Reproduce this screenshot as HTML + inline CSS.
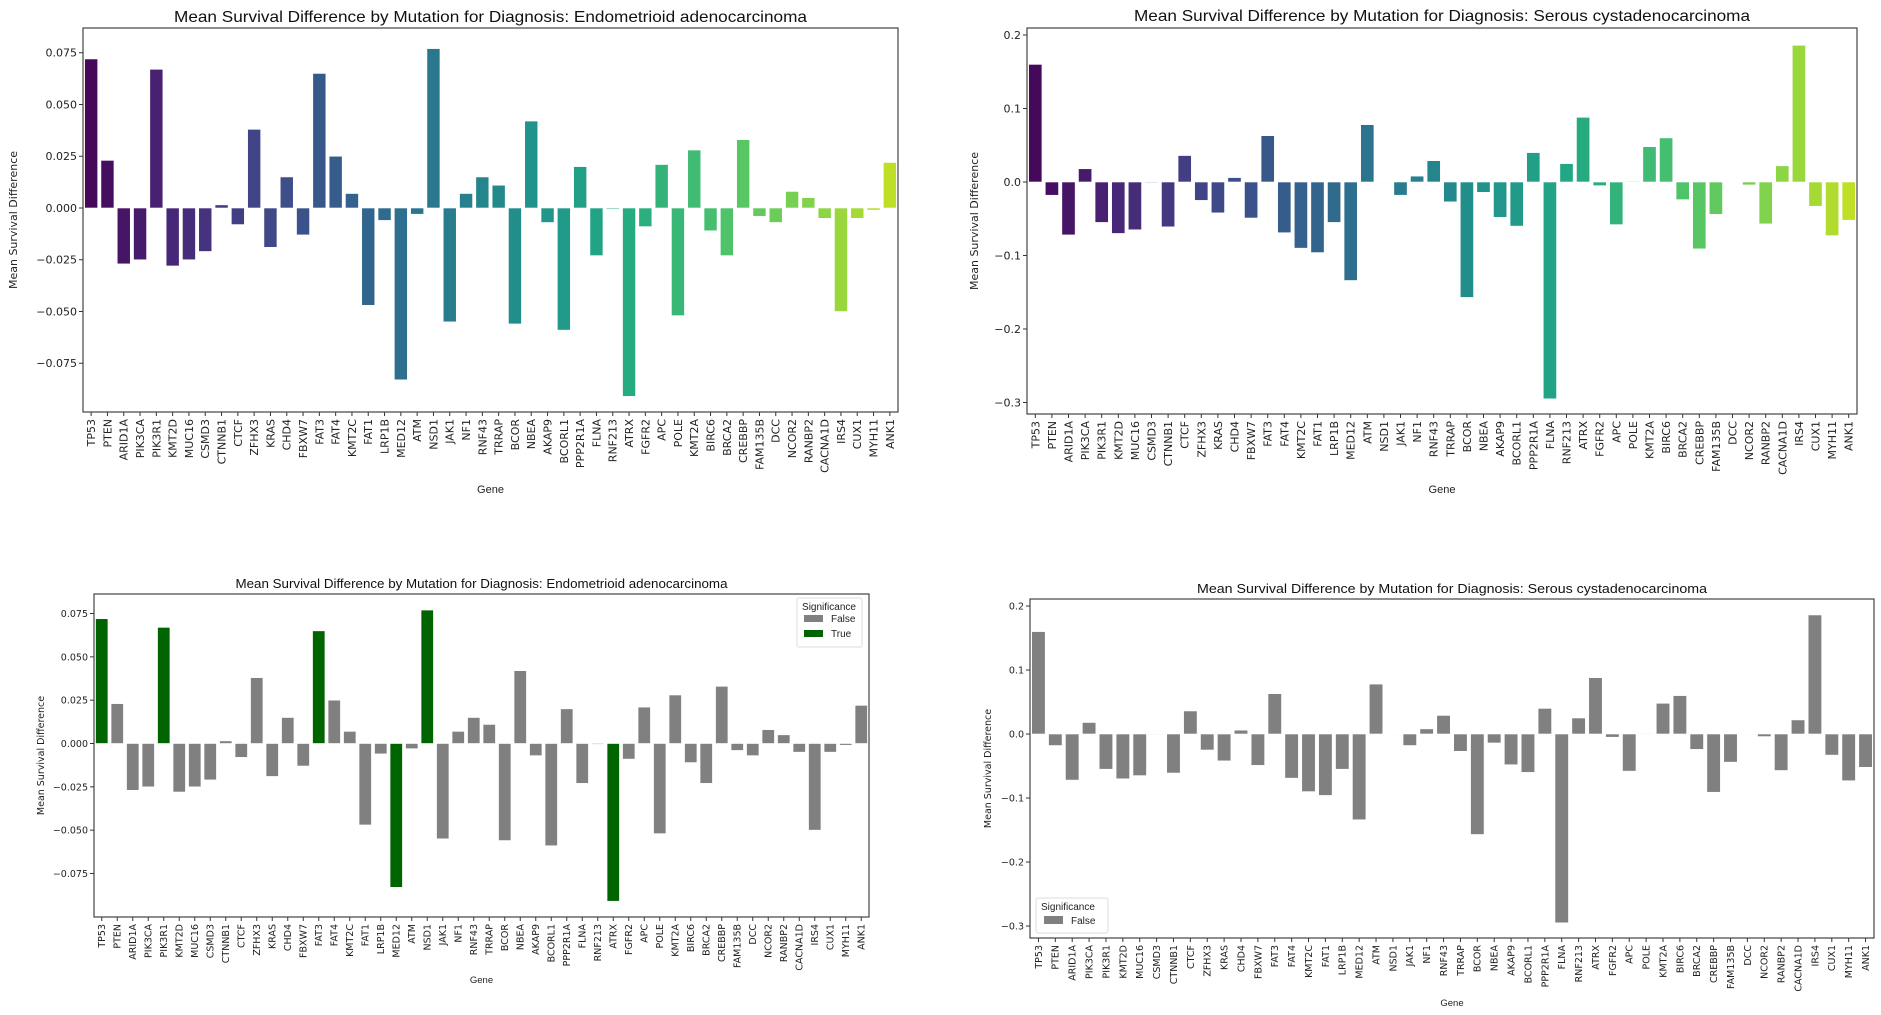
<!DOCTYPE html>
<html><head><meta charset="utf-8">
<style>
html,body{margin:0;padding:0;background:#fff;}
svg{display:block;}
</style></head>
<body>
<svg id="s" xmlns="http://www.w3.org/2000/svg" width="1881" height="1015" viewBox="0 0 1881 1015">
<rect x="0" y="0" width="1881" height="1015" fill="#ffffff"/>
</svg>
<script>
const genes=["TP53","PTEN","ARID1A","PIK3CA","PIK3R1","KMT2D","MUC16","CSMD3","CTNNB1","CTCF","ZFHX3","KRAS","CHD4","FBXW7","FAT3","FAT4","KMT2C","FAT1","LRP1B","MED12","ATM","NSD1","JAK1","NF1","RNF43","TRRAP","BCOR","NBEA","AKAP9","BCORL1","PPP2R1A","FLNA","RNF213","ATRX","FGFR2","APC","POLE","KMT2A","BIRC6","BRCA2","CREBBP","FAM135B","DCC","NCOR2","RANBP2","CACNA1D","IRS4","CUX1","MYH11","ANK1"];
const endo=[0.072,0.023,-0.027,-0.025,0.067,-0.028,-0.025,-0.021,0.0015,-0.008,0.038,-0.019,0.015,-0.013,0.065,0.025,0.007,-0.047,-0.006,-0.083,-0.003,0.077,-0.055,0.007,0.015,0.011,-0.056,0.042,-0.007,-0.059,0.020,-0.023,-0.0005,-0.091,-0.009,0.021,-0.052,0.028,-0.011,-0.023,0.033,-0.004,-0.007,0.008,0.005,-0.005,-0.050,-0.005,-0.001,0.022];
const ser=[0.160,-0.018,-0.072,0.018,-0.055,-0.070,-0.065,-0.001,-0.061,0.036,-0.025,-0.042,0.006,-0.049,0.063,-0.069,-0.090,-0.096,-0.055,-0.134,0.078,0,-0.018,0.008,0.029,-0.027,-0.157,-0.014,-0.048,-0.060,0.040,-0.295,0.025,0.088,-0.005,-0.058,0.001,0.048,0.060,-0.024,-0.091,-0.044,0,-0.004,-0.057,0.022,0.186,-0.033,-0.073,-0.052];
const sigIdx=[0,4,14,19,21,33];
const vir=["#440154","#482475","#414487","#355f8d","#2a788e","#21918c","#22a884","#44bf70","#7ad151","#bddf26","#fde725"];
function hx(h){return [1,3,5].map(i=>parseInt(h.substr(i,2),16));}
function viridis(t){const p=t*10;let i=Math.min(9,Math.floor(p));const f=p-i;const a=hx(vir[i]),b=hx(vir[i+1]);return "rgb("+a.map((v,k)=>Math.round(v+(b[k]-v)*f)).join(",")+")";}
const S=document.getElementById('s');let out='';
function chart(c){
  const n=50,bw=(c.R-c.L)/n;
  for(let i=0;i<n;i++){
    const v=c.data[i];const cx=c.L+bw*(i+0.5);const w=bw*0.8;
    const yv=c.y0-v*c.sc;const y=Math.min(yv,c.y0),h=Math.max(Math.abs(yv-c.y0),0.6);
    out+=`<rect x="${(cx-w/2).toFixed(2)}" y="${y.toFixed(2)}" width="${w.toFixed(2)}" height="${h.toFixed(2)}" fill="${c.col(i)}" stroke="#ffffff" stroke-width="0.6"/>`;
    out+=`<line x1="${cx.toFixed(2)}" y1="${c.B}" x2="${cx.toFixed(2)}" y2="${c.B+4}" stroke="#333" stroke-width="1"/>`;
    out+=`<text transform="translate(${(cx+c.fs*0.36).toFixed(2)},${c.B+7}) rotate(-90)" text-anchor="end" font-family="DejaVu Sans, Liberation Sans, sans-serif" font-size="${c.fs}" fill="#222">${genes[i]}</text>`;
  }
  out+=`<rect x="${c.L}" y="${c.T}" width="${c.R-c.L}" height="${c.B-c.T}" fill="none" stroke="#444" stroke-width="1.2"/>`;
  for(const t of c.ticks){
    const y=c.y0-t[0]*c.sc;
    out+=`<line x1="${c.L-4}" y1="${y.toFixed(2)}" x2="${c.L}" y2="${y.toFixed(2)}" stroke="#333" stroke-width="1"/>`;
    out+=`<text x="${c.L-6}" y="${(y+c.fs*0.36).toFixed(2)}" text-anchor="end" font-family="DejaVu Sans, Liberation Sans, sans-serif" font-size="${c.fs}" fill="#222">${t[1]}</text>`;
  }
  out+=`<text x="${(c.L+c.R)/2}" y="${c.ty}" text-anchor="middle" font-family="Liberation Sans, sans-serif" font-size="${c.tfs}" textLength="${c.tw}" lengthAdjust="spacingAndGlyphs" fill="#111">${c.title}</text>`;
  out+=`<text x="${(c.L+c.R)/2}" y="${c.gy}" text-anchor="middle" font-family="Liberation Sans, sans-serif" font-size="${c.fs}" fill="#222">Gene</text>`;
  out+=`<text transform="translate(${c.yl},${(c.T+c.B)/2}) rotate(-90)" text-anchor="middle" font-family="DejaVu Sans, Liberation Sans, sans-serif" font-size="${c.fs}" fill="#222">Mean Survival Difference</text>`;
}
const vcol=i=>viridis(0.02+i/49*0.88);
const et=[[0.075,"0.075"],[0.05,"0.050"],[0.025,"0.025"],[0,"0.000"],[-0.025,"−0.025"],[-0.05,"−0.050"],[-0.075,"−0.075"]];
const st=[[0.2,"0.2"],[0.1,"0.1"],[0,"0.0"],[-0.1,"−0.1"],[-0.2,"−0.2"],[-0.3,"−0.3"]];
chart({L:83,R:898,T:28,B:412,y0:208,sc:2070,data:endo,col:vcol,ticks:et,title:"Mean Survival Difference by Mutation for Diagnosis: Endometrioid adenocarcinoma",ty:22,tfs:16,tw:633,fs:11,gy:493,yl:17});
chart({L:1027,R:1857,T:28,B:414,y0:182,sc:735,data:ser,col:vcol,ticks:st,title:"Mean Survival Difference by Mutation for Diagnosis: Serous cystadenocarcinoma",ty:21,tfs:16,tw:616,fs:11,gy:493,yl:978});
chart({L:94,R:869,T:594,B:917,y0:743.5,sc:1733,data:endo,col:i=>sigIdx.includes(i)?"#006400":"#808080",ticks:et,title:"Mean Survival Difference by Mutation for Diagnosis: Endometrioid adenocarcinoma",ty:588,tfs:13,tw:492,fs:9.5,gy:983,yl:44});
chart({L:1030,R:1874,T:599,B:938,y0:734,sc:640,data:ser,col:i=>"#808080",ticks:st,title:"Mean Survival Difference by Mutation for Diagnosis: Serous cystadenocarcinoma",ty:593,tfs:13,tw:510,fs:9.5,gy:1006,yl:991});
out+=`<rect x="797" y="598" width="65" height="49" rx="2" fill="#fff" stroke="#ddd"/>`;
out+=`<text x="829" y="610" text-anchor="middle" font-family="Liberation Sans, sans-serif" font-size="10" fill="#222">Significance</text>`;
out+=`<rect x="804" y="615" width="19" height="7" fill="#808080"/><text x="831" y="622" font-family="Liberation Sans, sans-serif" font-size="10" fill="#222">False</text>`;
out+=`<rect x="804" y="630" width="19" height="7" fill="#006400"/><text x="831" y="637" font-family="Liberation Sans, sans-serif" font-size="10" fill="#222">True</text>`;
out+=`<rect x="1036" y="898" width="72" height="35" rx="2" fill="#fff" stroke="#ddd"/>`;
out+=`<text x="1041" y="910" font-family="Liberation Sans, sans-serif" font-size="10" fill="#222">Significance</text>`;
out+=`<rect x="1044" y="916" width="19" height="8" fill="#808080"/><text x="1071" y="924" font-family="Liberation Sans, sans-serif" font-size="10" fill="#222">False</text>`;
S.insertAdjacentHTML('beforeend',out);
</script>
</body></html>
